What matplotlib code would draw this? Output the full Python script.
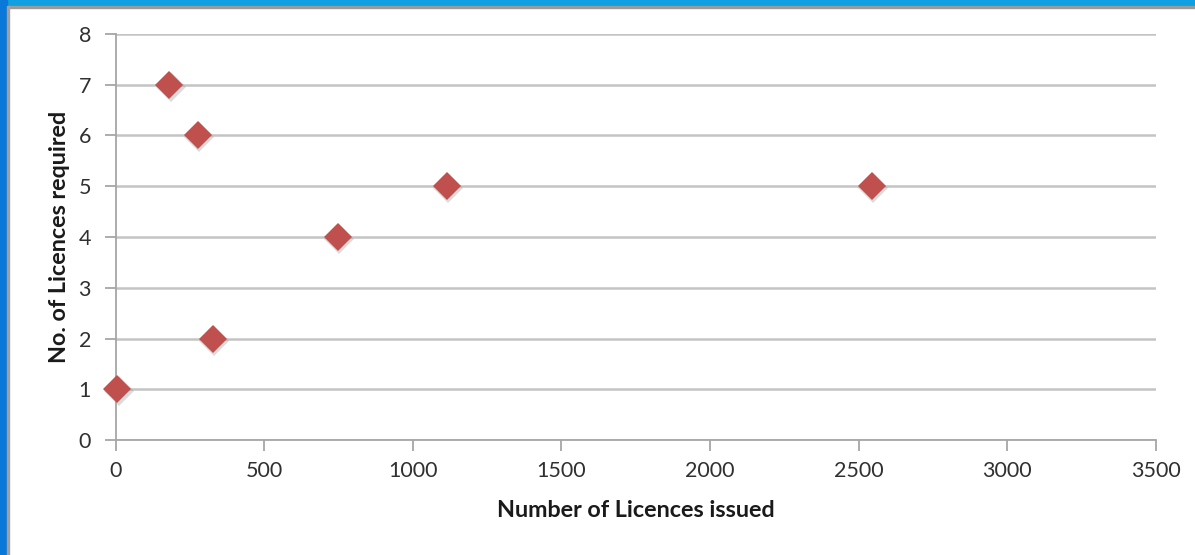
"""Scatter of licences required vs licences issued."""
import matplotlib.pyplot as plt
import matplotlib.transforms as mtransforms
from matplotlib.patches import Rectangle

# Values.
licences_issued = [5, 180, 276, 326, 747, 1114, 2544]
licences_required = [1, 7, 6, 2, 4, 5, 5]
x_ticks = [0, 500, 1000, 1500, 2000, 2500, 3000, 3500]
y_ticks = [0, 1, 2, 3, 4, 5, 6, 7, 8]

plt.rcParams['font.family'] = ['Lato', 'DejaVu Sans']

fig = plt.figure(figsize=(11.95, 5.55), dpi=100)
ax = fig.add_axes([0.097, 0.207, 0.870, 0.732])

grid_col = '#c4c4c4'
ax.set_xlim(0, 3500)
ax.set_ylim(0, 8)
ax.set_xticks(x_ticks)
ax.set_yticks(y_ticks)
ax.yaxis.grid(True, color=grid_col, linewidth=1.8)
ax.set_axisbelow(True)

for side in ('top', 'right'):
    ax.spines[side].set_visible(False)
for side in ('left', 'bottom'):
    ax.spines[side].set_color('#a6a6a6')
    ax.spines[side].set_linewidth(1.3)
ax.tick_params(axis='both', colors='#a6a6a6', length=8, width=1.3,
               labelsize=15.5, labelcolor='#303030')
ax.tick_params(axis='x', pad=7)
ax.tick_params(axis='y', pad=10)

# Soft shadow under each marker, then the markers.
shadow = ax.transData + mtransforms.ScaledTranslation(
    1.5 / 100, -2 / 100, fig.dpi_scale_trans)
ax.plot(licences_issued, licences_required, linestyle='none', marker='D',
        markersize=15, color='#9a9a9a', alpha=0.35, markeredgewidth=0,
        transform=shadow, clip_on=False, zorder=2)
ax.plot(licences_issued, licences_required, linestyle='none', marker='D',
        markersize=14.5, color='#c0504d', markeredgewidth=0, clip_on=False,
        zorder=3)

ax.set_xlabel('Number of Licences issued', fontsize=16.8, fontweight='bold',
              color='#1a1a1a', labelpad=14)
ax.set_ylabel('No. of Licences required', fontsize=16.8, fontweight='bold',
              color='#1a1a1a', labelpad=6)

# Blue slide frame along the top and left edges.
fig.patches.append(Rectangle((0, 1 - 6 / 555), 1, 6 / 555,
                             transform=fig.transFigure, color='#0fa0e2',
                             zorder=0))
fig.patches.append(Rectangle((0, 1 - 7.5 / 555), 1, 1.5 / 555,
                             transform=fig.transFigure, color='#9a9a9a',
                             zorder=0))
fig.patches.append(Rectangle((0, 0), 7 / 1195, 1,
                             transform=fig.transFigure, color='#0a78d8',
                             zorder=1))
fig.patches.append(Rectangle((7 / 1195, 0), 2 / 1195, 1 - 6 / 555,
                             transform=fig.transFigure, color='#a0a0a0',
                             zorder=1))

fig.savefig('out.png', dpi=100)
